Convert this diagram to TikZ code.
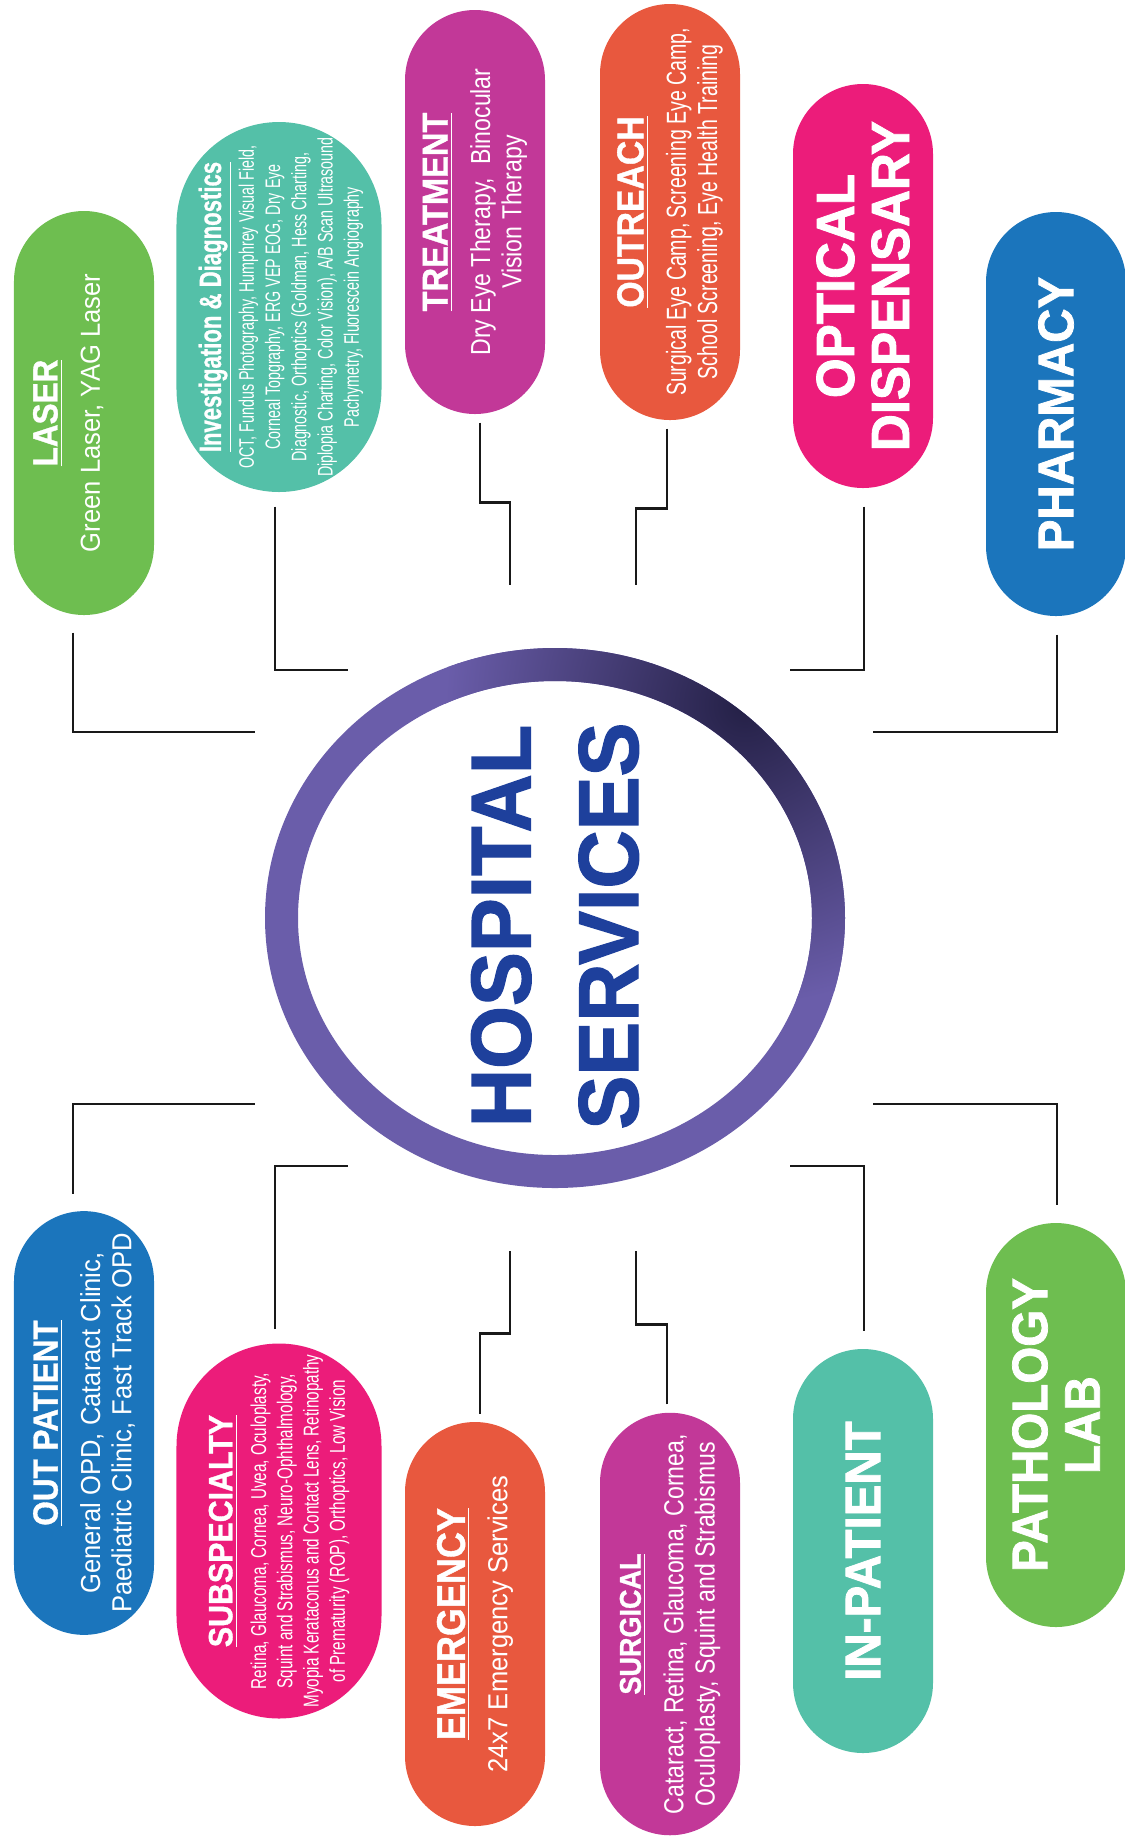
\documentclass[tikz,border=0pt]{standalone}
\usepackage{fontspec}
\setmainfont{Liberation Sans}
\newfontfamily\headfont[FakeStretch=0.9,FakeBold=1]{Liberation Sans}
\newfontfamily\narrowhead[FakeStretch=0.72,FakeBold=0.8]{Liberation Sans}
\newfontfamily\bigfont[FakeStretch=0.95,FakeBold=1.5]{Liberation Sans}
\newfontfamily\descA[FakeStretch=0.93]{Liberation Sans}
\newfontfamily\descB[FakeStretch=0.84]{Liberation Sans}
\newfontfamily\descC[FakeStretch=0.71]{Liberation Sans}
\newfontfamily\descD[FakeStretch=0.68]{Liberation Sans}
\usepackage{xcolor}
\usepackage{tikz}
\usetikzlibrary{shapes.misc}

\definecolor{lasergreen}{RGB}{110,190,80}
\definecolor{diagteal}{RGB}{84,192,168}
\definecolor{treatmagenta}{RGB}{194,56,152}
\definecolor{outorange}{RGB}{232,88,62}
\definecolor{optpink}{RGB}{236,28,122}
\definecolor{pharmblue}{RGB}{27,117,188}
\definecolor{ringpurple}{RGB}{106,93,170}
\definecolor{ringdark}{RGB}{36,32,70}
\definecolor{titleblue}{RGB}{30,64,156}

\newcommand{\pillhead}[2][14]{{\headfont\bfseries\fontsize{#1}{#1}\selectfont\underline{#2}}}

\begin{document}
\begin{tikzpicture}[x=0.4pt,y=0.4pt,yscale=-1,xscale=1,
  pill/.style={rounded rectangle, rotate=90, inner sep=0pt, text=white, align=center,
    minimum width=161.6pt, minimum height=56pt, font=\descA\fontsize{11}{12.5}\selectfont},
  widepill/.style={pill, minimum width=148pt, minimum height=82pt},
  pilltext/.style={rotate=90, inner sep=0pt, text=white, align=center},
  bigpill/.style={pill, font=\bigfont\bfseries\fontsize{20}{21}\selectfont},
  link/.style={line width=1.1pt, black!90}]

\useasboundingbox (0,0) rectangle (1125,1836);

%Shape: Ring [id:hub]
\node[circle, inner sep=0pt, minimum size=216pt] (hub) at (555,918) {};
\fill[ringpurple, even odd rule] (hub.center) ellipse [x radius=290, y radius=270]
  (hub.center) ellipse [x radius=257, y radius=237];
\begin{scope}[even odd rule]
  \clip (hub.center) ellipse [x radius=290, y radius=270]
    (hub.center) ellipse [x radius=257, y radius=237];
  \shade[inner color=ringdark, outer color=ringpurple] (745,705) circle (300);
\end{scope}

% Text Node
\node[rotate=90, text=titleblue, align=center, inner sep=0pt,
  font=\bigfont\bfseries\fontsize{34}{43}\selectfont] (hubtext) at (555,926) {HOSPITAL\\SERVICES};

%Shape: Pills top row
\node[pill, fill=lasergreen] (laser) at (84,413)
  {\pillhead{LASER}\\[4.5pt] Green Laser, YAG Laser\\[1.5pt]\mbox{}};
\node[widepill, fill=diagteal] (diag) at (279,307) {};
% Text Node
\node[pilltext, font=\descD\fontsize{8.4}{10.5}\selectfont] (diagText) at (281,307)
  {{\narrowhead\bfseries\fontsize{12.3}{12.3}\selectfont\underline{Investigation \& Diagnostics}}\\[1.5pt]
   OCT, Fundus Photography, Humphrey Visual Field,\\
   Corneal Topgraphy, ERG VEP EOG, Dry Eye\\
   Diagnostic, Orthoptics (Goldman, Hess Charting,\\
   Diplopia Charting, Color Vision), A/B Scan Ultrasound\\
   Pachymetry, Fluorescein Angiography};
\node[pill, fill=treatmagenta, font=\descB\fontsize{11}{12.5}\selectfont] (treat) at (475,212)
  {\pillhead[14.5]{TREATMENT}\\[4.5pt] Dry Eye Therapy,\ \ Binocular\\ Vision Therapy};
\node[pill, fill=outorange, font=\descC\fontsize{11}{12.5}\selectfont] (outreach) at (670,212)
  {\pillhead[15]{OUTREACH}\\[4.5pt] Surgical Eye Camp, Screening Eye Camp,\\ School Screening, Eye Health Training};
\node[bigpill, fill=optpink, font=\bigfont\bfseries\fontsize{21.5}{22}\selectfont] (optical) at (863,286) {OPTICAL\\DISPENSARY};
\node[bigpill, fill=pharmblue] (pharmacy) at (1056,414) {PHARMACY};

%Shape: Pills bottom row
\node[pill, fill=pharmblue] (outpat) at (84,1423)
  {\pillhead{OUT PATIENT}\\[4.5pt] General OPD, Cataract Clinic,\\ Paediatric Clinic, Fast Track OPD};
\node[widepill, fill=optpink, minimum width=150pt] (subspec) at (279,1531) {};
% Text Node
\node[pilltext, font=\descC\fontsize{8.6}{10.5}\selectfont] (subspecText) at (subspec.center)
  {\pillhead[13.5]{SUBSPECIALTY}\\[3pt]
   Retina, Glaucoma, Cornea, Uvea, Oculoplasty,\\
   Squint and Strabismus, Neuro-Ophthalmology,\\
   Myopia Kerataconus and Contact Lens, Retinopathy\\
   of Prematurity (ROP), Orthoptics, Low Vision};
\node[pill, fill=outorange] (emerg) at (475,1624)
  {\pillhead[16]{EMERGENCY}\\[4.5pt] 24x7 Emergency Services};
\node[pill, fill=treatmagenta, font=\descB\fontsize{11}{12.5}\selectfont] (surg) at (670,1624)
  {\pillhead[12]{SURGICAL}\\[4.5pt] Cataract, Retina, Glaucoma, Cornea,\\ Oculoplasty, Squint and Strabismus};
\node[bigpill, fill=diagteal] (inpat) at (863,1551) {IN-PATIENT};
\node[bigpill, fill=lasergreen] (path) at (1056,1425) {PATHOLOGY\\LAB};

%Straight Lines: connector ends near the ring
\coordinate (laserEnd) at (255,732);
\coordinate (diagEnd) at (348,670);
\coordinate (treatEnd) at (510,585);
\coordinate (outreachEnd) at (636,585);
\coordinate (opticalEnd) at (790,670);
\coordinate (pharmacyEnd) at (873,732);
\coordinate (outpatEnd) at (255,1104);
\coordinate (subspecEnd) at (348,1166);
\coordinate (emergEnd) at (510,1251);
\coordinate (surgEnd) at (636,1251);
\coordinate (inpatEnd) at (790,1166);
\coordinate (pathEnd) at (873,1104);

%Straight Lines: top row
\draw[link] (laser.west) ++(-11,17) |- (laserEnd);
\draw[link] (diag.west) ++(-4,14) |- (diagEnd);
\draw[link] (treat.west) ++(5,8) -- ++(0,80) -| (treatEnd);
\draw[link] (outreach.west) ++(-3,8) -- ++(0,80) -| (outreachEnd);
\draw[link] (optical.west) ++(1,18) |- (opticalEnd);
\draw[link] (pharmacy.west) ++(1,18) |- (pharmacyEnd);

%Straight Lines: bottom row
\draw[link] (outpat.east) ++(-11,-17) |- (outpatEnd);
\draw[link] (subspec.east) ++(-4,-14) |- (subspecEnd);
\draw[link] (emerg.east) ++(5,-8) -- ++(0,-80) -| (emergEnd);
\draw[link] (surg.east) ++(-3,-8) -- ++(0,-80) -| (surgEnd);
\draw[link] (inpat.east) ++(1,-18) |- (inpatEnd);
\draw[link] (path.east) ++(1,-18) |- (pathEnd);

\end{tikzpicture}
\end{document}
